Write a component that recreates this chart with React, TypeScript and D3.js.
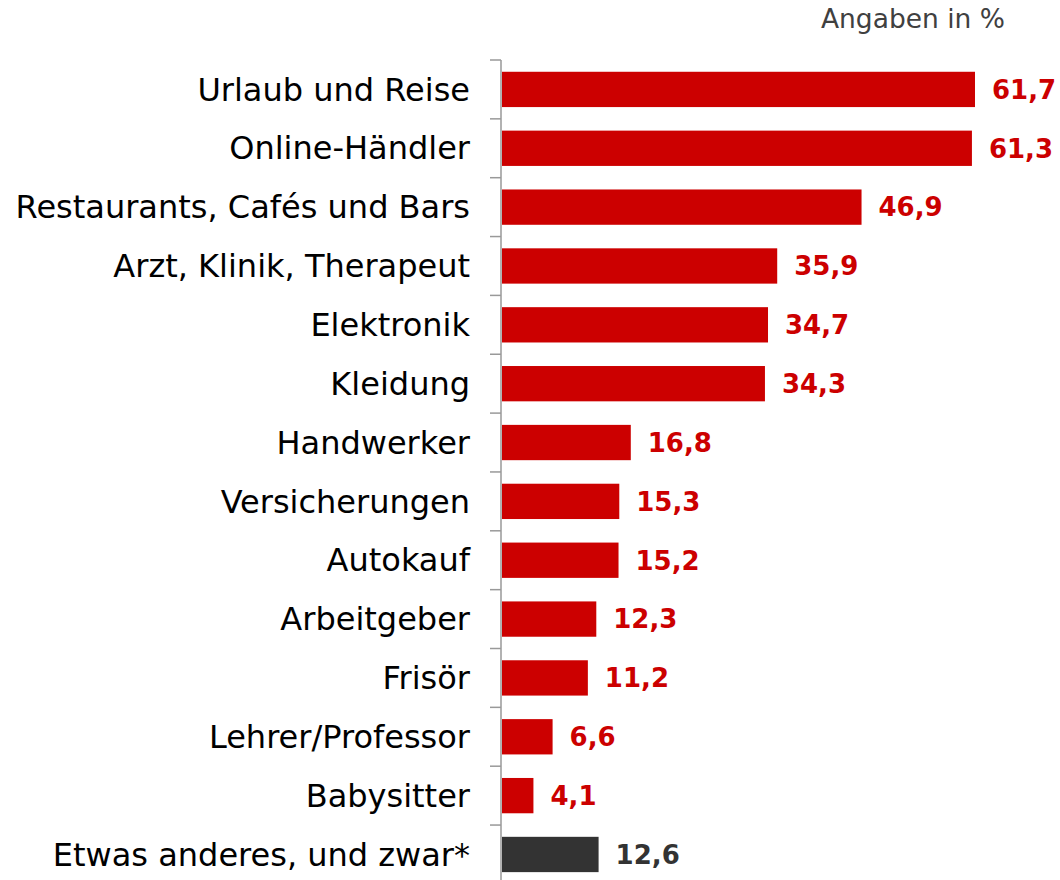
import React from "react";
import * as d3 from "d3";

const categories = [
  "Urlaub und Reise",
  "Online-Händler",
  "Restaurants, Cafés und Bars",
  "Arzt, Klinik, Therapeut",
  "Elektronik",
  "Kleidung",
  "Handwerker",
  "Versicherungen",
  "Autokauf",
  "Arbeitgeber",
  "Frisör",
  "Lehrer/Professor",
  "Babysitter",
  "Etwas anderes, und zwar*",
];
const values = [61.7, 61.3, 46.9, 35.9, 34.7, 34.3, 16.8, 15.3, 15.2, 12.3, 11.2, 6.6, 4.1, 12.6];
const highlight = ["Etwas anderes, und zwar*"];
const unitNote = "Angaben in %";

const W = 1060;
const H = 880;
const axisX = 501;
const font = "Verdana, 'DejaVu Sans', sans-serif";

export default function App() {
  // band step ~58.85px, ticks sit on band boundaries
  const y = d3.scaleBand<string>().domain(categories).range([60, 60 + 14 * 58.85]).paddingInner(0.4).paddingOuter(0.2);
  const x = d3.scaleLinear().domain([0, 70]).range([axisX + 1, axisX + 1 + 7.666 * 70]);
  const fmt = (v: number) => d3.format(".1f")(v).replace(".", ",");
  const step = y.step();
  const ticks = d3.range(categories.length).map(i => 60 + i * step);

  return (
    <svg width={W} height={H} style={{ position: "absolute", left: 0, top: 0 }}>
      <text x={1005} y={28} textAnchor="end" fontFamily={font} fontSize={26.5} fill="#404040">{unitNote}</text>
      {categories.map((c, i) => {
        const color = highlight.includes(c) ? "#333333" : "#CC0000";
        const cy = y(c)! + y.bandwidth() / 2;
        return (
          <g key={c}>
            <rect x={x(0)} y={y(c)} width={x(values[i]) - x(0)} height={y.bandwidth()} fill={color} />
            <text x={470} y={cy} dy="0.35em" textAnchor="end" fontFamily={font} fontSize={32} fill="#000">{c}</text>
            <text x={x(values[i]) + 17} y={cy} dy="0.36em" fontFamily={font} fontSize={26} fontWeight="bold" fill={color}>{fmt(values[i])}</text>
          </g>
        );
      })}
      <line x1={axisX} x2={axisX} y1={60} y2={H} stroke="#999" strokeWidth={1.5} />
      {ticks.map(t => (
        <line key={t} x1={490} x2={axisX} y1={t} y2={t} stroke="#999" strokeWidth={1.5} />
      ))}
    </svg>
  );
}
